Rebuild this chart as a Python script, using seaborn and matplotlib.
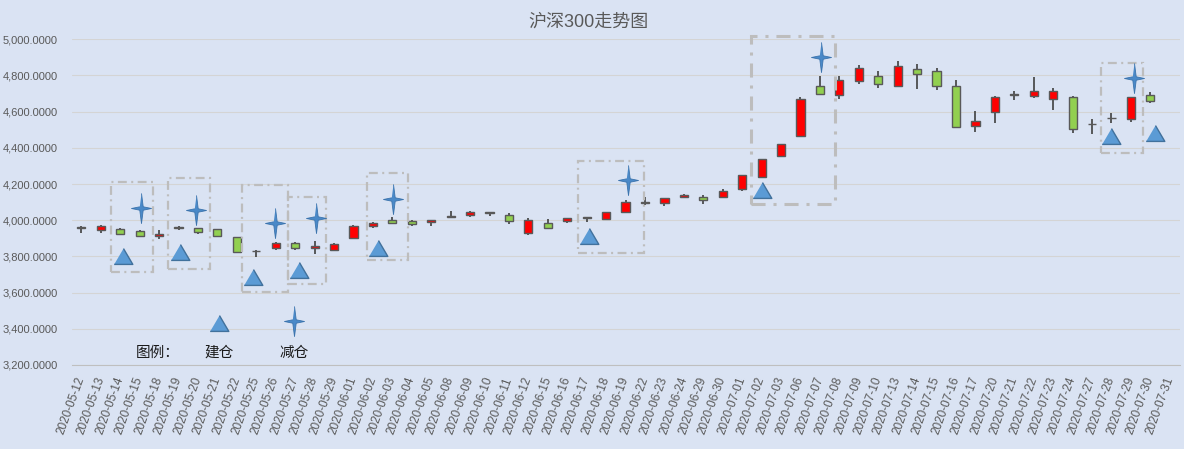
import numpy as np
import pandas as pd
import matplotlib
matplotlib.use("Agg")
import matplotlib.pyplot as plt
import seaborn as sns

# ---- data ----
dates = ["2020-05-12", "2020-05-13", "2020-05-14", "2020-05-15", "2020-05-18", "2020-05-19",
         "2020-05-20", "2020-05-21", "2020-05-22", "2020-05-25", "2020-05-26", "2020-05-27",
         "2020-05-28", "2020-05-29", "2020-06-01", "2020-06-02", "2020-06-03", "2020-06-04",
         "2020-06-05", "2020-06-08", "2020-06-09", "2020-06-10", "2020-06-11", "2020-06-12",
         "2020-06-15", "2020-06-16", "2020-06-17", "2020-06-18", "2020-06-19", "2020-06-22",
         "2020-06-23", "2020-06-24", "2020-06-29", "2020-06-30", "2020-07-01", "2020-07-02",
         "2020-07-03", "2020-07-06", "2020-07-07", "2020-07-08", "2020-07-09", "2020-07-10",
         "2020-07-13", "2020-07-14", "2020-07-15", "2020-07-16", "2020-07-17", "2020-07-20",
         "2020-07-21", "2020-07-22", "2020-07-23", "2020-07-24", "2020-07-27", "2020-07-28",
         "2020-07-29", "2020-07-30", "2020-07-31"]

opens = [3960, 3947, 3952, 3941, 3915, 3961, 3957, 3952, 3908, 3828, 3846, 3874, 3849, 3837,
         3901, 3968, 4000, 3995, 3989, 4020, 4029, 4044, 4030, 3929, 3985, 3995, 4015, 4005,
         4046, 4098, 4095, 4127, 4130, 4129, 4173, 4240, 4356, 4466, 4741, 4690, 4767, 4796,
         4740, 4834, 4823, 4741, 4523, 4600, 4693, 4686, 4670, 4680, 4532, 4565, 4560, 4691, np.nan]
highs = [3970, 3975, 3955, 3944, 3944, 3968, 3959, 3954, 3910, 3835, 3877, 3877, 3886, 3875,
         3975, 3992, 4018, 4003, 4003, 4053, 4053, 4046, 4042, 4012, 4006, 4014, 4017, 4047,
         4112, 4128, 4123, 4146, 4141, 4174, 4250, 4340, 4423, 4682, 4796, 4799, 4857, 4823,
         4879, 4864, 4840, 4775, 4603, 4684, 4715, 4790, 4730, 4685, 4559, 4592, 4682, 4708, np.nan]
lows = [3930, 3930, 3922, 3905, 3897, 3944, 3925, 3905, 3819, 3797, 3838, 3834, 3816, 3830,
        3899, 3955, 3982, 3967, 3967, 4018, 4019, 4023, 3977, 3920, 3953, 3985, 3990, 3999,
        4043, 4082, 4076, 4121, 4090, 4126, 4161, 4237, 4347, 4463, 4695, 4669, 4755, 4733,
        4738, 4727, 4722, 4512, 4487, 4537, 4665, 4674, 4608, 4481, 4479, 4537, 4545, 4649, np.nan]
closes = [3958, 3968, 3925, 3912, 3925, 3959, 3934, 3912, 3824, 3830, 3875, 3846, 3857, 3868,
          3968, 3985, 3984, 3978, 4000, 4021, 4046, 4042, 3995, 4001, 3955, 4012, 4017, 4045,
          4100, 4100, 4121, 4138, 4111, 4161, 4248, 4338, 4421, 4670, 4698, 4774, 4839, 4752,
          4851, 4808, 4744, 4515, 4549, 4682, 4695, 4715, 4713, 4503, 4534, 4567, 4680, 4659, np.nan]

# 建仓 (buy) and 减仓 (sell) marks, x in category units
buy_pos = [2.14, 5.08, 8.83, 11.2, 15.26, 26.12, 35.02, 53.0, 55.23]
buy_val = [3804, 3822, 3687, 3723, 3847, 3911, 4167, 4465, 4480]
sell_pos = [3.07, 5.9, 9.96, 12.06, 16.02, 28.12, 38.03, 54.14]
sell_val = [4068, 4058, 3985, 4012, 4117, 4224, 4904, 4785]

# highlighted windows: x from, x to, low, high
box_x0 = [1.55, 4.48, 8.25, 10.62, 14.68, 25.53, 34.43, 52.44]
box_x1 = [3.7, 6.62, 10.62, 12.59, 16.79, 28.95, 38.76, 54.63]
box_lo = [3712, 3733, 3603, 3647, 3782, 3821, 4091, 4374]
box_hi = [4209, 4233, 4196, 4127, 4260, 4325, 5018, 4871]

df = pd.DataFrame({"date": dates, "open": opens, "high": highs, "low": lows, "close": closes})
df["pos"] = np.arange(len(df))
kd = df.dropna()

# ---- style ----
bg = "#DAE3F3"
sns.set_theme(style="white", rc={"axes.facecolor": bg, "figure.facecolor": bg})
plt.rcParams["font.family"] = ["Liberation Sans", "Noto Sans CJK SC", "DejaVu Sans"]

fig = plt.figure(figsize=(11.84, 4.49), dpi=100)
ax = fig.add_axes([0.0605, 0.1871, 0.9357, 0.7254])

# wicks
ax.vlines(kd["pos"], kd["low"], kd["high"], color="#404040", lw=1.2, zorder=2)
# bodies
up = kd["close"] >= kd["open"]
body_lo = np.minimum(kd["open"], kd["close"])
body_h = (kd["close"] - kd["open"]).abs()
ax.bar(kd["pos"], body_h, bottom=body_lo, width=0.42,
       color=np.where(up, "#FF0000", "#92D050"), edgecolor="#595959", lw=1.0, zorder=3)

# markers
tri = [(-1, -0.85), (1, -0.85), (0, 0.85)]
star = [(0, 1.5), (0.17, 0.17), (1, 0), (0.17, -0.17), (0, -1.5), (-0.17, -0.17), (-1, 0), (-0.17, 0.17)]
sns.scatterplot(x=buy_pos, y=buy_val, marker=tri, s=180, color="#5B9BD5",
                edgecolor="#41719C", linewidth=1, ax=ax, zorder=5, legend=False)
sns.scatterplot(x=sell_pos, y=sell_val, marker=star, s=470, color="#4A89C8",
                edgecolor="#3C74AD", linewidth=0.6, ax=ax, zorder=5, legend=False)

# dashed windows
for x0, x1, lo, hi in zip(box_x0, box_x1, box_lo, box_hi):
    if (x1 - x0) > 4:
        lw, ls = 2.2, (0, (4.6, 2.6, 1.0, 2.6))
    else:
        lw, ls = 1.6, (0, (4.0, 2.0, 0.9, 2.0))
    ax.add_patch(plt.Rectangle((x0, lo), x1 - x0, hi - lo, fill=False,
                               edgecolor="#BDBDBD", lw=lw, ls=ls, zorder=4, clip_on=False))

# hand-made legend
ax.scatter([7.08], [3433], marker=tri, s=180, color="#5B9BD5", edgecolor="#41719C", lw=1, zorder=5)
ax.scatter([10.94], [3444], marker=star, s=470, color="#4A89C8", edgecolor="#3C74AD", lw=0.6, zorder=5)
ax.text(3.95, 3268, "图例：", ha="center", va="center", fontsize=10.5, color="#1A1A1A")
ax.text(7.08, 3268, "建仓", ha="center", va="center", fontsize=10.5, color="#1A1A1A")
ax.text(10.94, 3268, "减仓", ha="center", va="center", fontsize=10.5, color="#1A1A1A")

# axes
ax.set_xlim(-0.5, len(dates) - 0.5)
ax.set_ylim(3200, 5000)
yt = np.arange(3200, 5001, 200)
ax.set_yticks(yt)
ax.set_yticklabels([f"{v:,.4f}" for v in yt], fontsize=8, color="#595959")
ax.set_xticks(df["pos"])
ax.set_xticklabels(dates, rotation=70, ha="right", va="center", rotation_mode="anchor",
                   fontsize=8.5, color="#595959")
ax.set_xticks(np.arange(-0.5, len(dates), 1), minor=True)
ax.tick_params(axis="x", which="major", length=0, pad=9)
ax.tick_params(axis="x", which="minor", length=4, color="#BFBFBF", width=0.8)
ax.tick_params(axis="y", length=0, pad=10)
ax.yaxis.grid(True, color="#D4D4D4", lw=0.8)
ax.xaxis.grid(False)
for s in ["left", "right", "top"]:
    ax.spines[s].set_visible(False)
ax.spines["bottom"].set_color("#BFBFBF")
ax.spines["bottom"].set_linewidth(0.8)
ax.set_axisbelow(True)

fig.text(0.4966, 0.951, "沪深300走势图", ha="center", va="center", fontsize=13, color="#595959")

fig.savefig("out.png", dpi=100, facecolor=bg)
